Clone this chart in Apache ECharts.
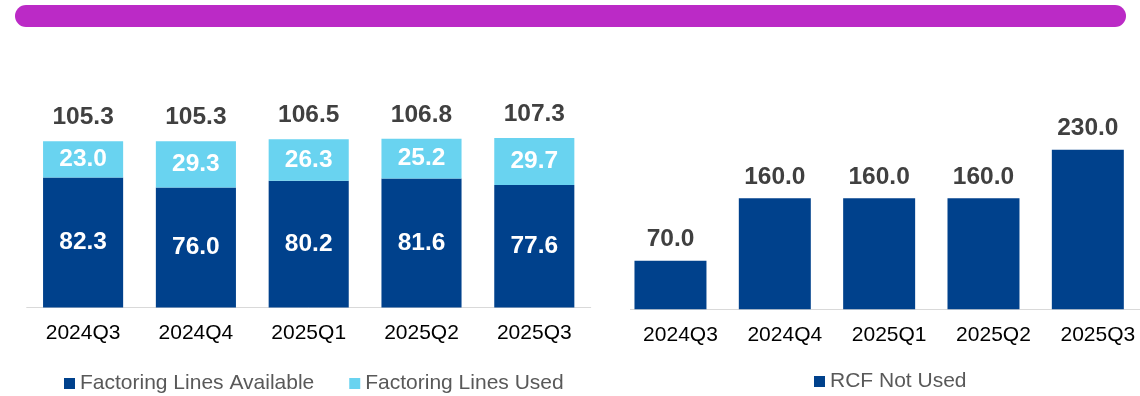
<!DOCTYPE html>
<html>
<head>
<meta charset="utf-8">
<script src="https://cdn.jsdelivr.net/npm/echarts@6/dist/echarts.min.js"></script>
<style>
html,body{margin:0;padding:0;background:#fff;}
#c{width:1140px;height:396px;}
</style>
</head>
<body>
<div id="c"></div>
<script>
const categories = ['2024Q3', '2024Q4', '2025Q1', '2025Q2', '2025Q3'];
const factoringAvailable = [82.3, 76.0, 80.2, 81.6, 77.6];
const factoringUsed = [23.0, 29.3, 26.3, 25.2, 29.7];
const factoringTotal = [105.3, 105.3, 106.5, 106.8, 107.3];
const rcfNotUsed = [70.0, 160.0, 160.0, 160.0, 230.0];

const FONT = 'Arial, "Liberation Sans", sans-serif';
const DARK = '#00418C';
const LIGHT = '#69D3F0';
const fmt = p => Number(p.value).toFixed(1);

const chart = echarts.init(document.getElementById('c'), null, {renderer: 'canvas'});
chart.setOption({
  animation: false,
  textStyle: {fontFamily: FONT},
  graphic: [{
    type: 'rect',
    shape: {x: 15, y: 5, width: 1111, height: 22, r: 11},
    style: {fill: '#BB2AC6'}
  }, {
    type: 'line',
    shape: {x1: 630, y1: 309.5, x2: 1140, y2: 309.5},
    style: {stroke: '#D9D9D9', lineWidth: 1},
    z: 0
  }],
  legend: [{
    data: ['Factoring Lines Available', 'Factoring Lines Used'],
    left: 64, top: 373, padding: 0,
    itemWidth: 11, itemHeight: 11, itemGap: 35,
    icon: 'rect',
    textStyle: {fontSize: 21, color: '#595959', fontFamily: FONT}
  }, {
    data: ['RCF Not Used'],
    left: 814, top: 371, padding: 0,
    itemWidth: 11, itemHeight: 11,
    icon: 'rect',
    textStyle: {fontSize: 21, color: '#595959', fontFamily: FONT}
  }],
  grid: [
    {left: 26.7, width: 564, top: 117.9, bottom: 88.5},
    {left: 618.3, width: 527, top: 101.1, bottom: 86.7}
  ],
  xAxis: [{
    type: 'category', gridIndex: 0, data: categories,
    axisLine: {lineStyle: {color: '#D9D9D9', width: 1}},
    axisTick: {show: false},
    axisLabel: {fontSize: 21, color: '#000', margin: 15.5, fontFamily: FONT}
  }, {
    type: 'category', gridIndex: 1, data: categories,
    axisLine: {show: false},
    axisTick: {show: false},
    axisLabel: {fontSize: 21, color: '#000', margin: 15.5, fontFamily: FONT, padding: [0, 0, 0, 20]}
  }],
  yAxis: [{
    type: 'value', gridIndex: 0, min: 0, max: 120, show: false
  }, {
    type: 'value', gridIndex: 1, min: 0, max: 300, show: false
  }],
  series: [{
    name: 'Factoring Lines Available', type: 'bar', stack: 'f',
    xAxisIndex: 0, yAxisIndex: 0, barWidth: '71%',
    data: factoringAvailable,
    itemStyle: {color: DARK},
    label: {show: true, position: 'inside', formatter: fmt, color: '#fff', fontSize: 24.5, fontWeight: 'bold', fontFamily: FONT}
  }, {
    name: 'Factoring Lines Used', type: 'bar', stack: 'f',
    xAxisIndex: 0, yAxisIndex: 0, barWidth: '71%',
    data: factoringUsed,
    itemStyle: {color: LIGHT},
    label: {show: true, position: 'inside', formatter: fmt, color: '#fff', fontSize: 24.5, fontWeight: 'bold', fontFamily: FONT}
  }, {
    name: 'Total', type: 'scatter',
    xAxisIndex: 0, yAxisIndex: 0,
    data: factoringTotal, symbolSize: 0, silent: true,
    itemStyle: {opacity: 1, color: '#404040'},
    label: {show: true, position: 'top', distance: 11, formatter: fmt, color: '#404040', opacity: 1, fontSize: 24.5, fontWeight: 'bold', fontFamily: FONT}
  }, {
    name: 'RCF Not Used', type: 'bar',
    xAxisIndex: 1, yAxisIndex: 1, barWidth: '69%',
    data: rcfNotUsed,
    itemStyle: {color: DARK},
    label: {show: true, position: 'top', distance: 9, formatter: fmt, color: '#404040', fontSize: 24.5, fontWeight: 'bold', fontFamily: FONT}
  }]
});
</script>
</body>
</html>
